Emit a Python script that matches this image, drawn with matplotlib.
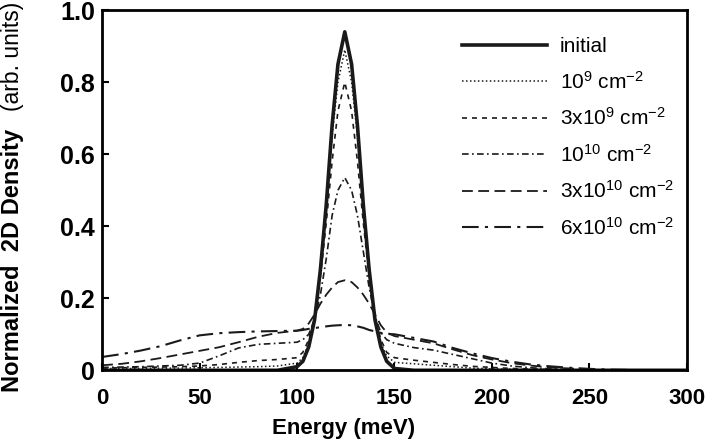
import matplotlib.pyplot as plt

plt.rcParams['font.family'] = ['Liberation Sans', 'DejaVu Sans']
plt.rcParams['mathtext.default'] = 'regular'

# energy grid (meV)
energy = [0, 10, 20, 30, 40, 50, 60, 70, 80, 90, 100,
          103, 106, 109, 112, 115, 118, 121, 124.5, 128, 131, 134, 137, 140, 143, 146,
          150, 160, 170, 180, 190, 200, 210, 220, 230, 240, 250, 260, 270, 280, 290, 300]

initial = [0, 0, 0, 0, 0, 0, 0, 0, 0, 0, 0.01,
           0.025, 0.065, 0.14, 0.28, 0.46, 0.68, 0.85, 0.94, 0.85, 0.68, 0.46, 0.28, 0.14, 0.065, 0.025,
           0.005, 0, 0, 0, 0, 0, 0, 0, 0, 0, 0, 0, 0, 0, 0, 0]

d_1e9 = [0.005, 0.005, 0.005, 0.006, 0.006, 0.007, 0.008, 0.009, 0.01, 0.012, 0.02,
         0.035, 0.075, 0.15, 0.28, 0.45, 0.65, 0.8, 0.89, 0.8, 0.65, 0.45, 0.28, 0.15, 0.075, 0.04,
         0.022, 0.018, 0.014, 0.01, 0.006, 0.004, 0.003, 0.002, 0.001, 0.001, 0, 0, 0, 0, 0, 0]

d_3e9 = [0.006, 0.007, 0.008, 0.009, 0.01, 0.012, 0.016, 0.022, 0.027, 0.03, 0.035,
         0.05, 0.085, 0.15, 0.26, 0.41, 0.58, 0.72, 0.8, 0.72, 0.58, 0.41, 0.26, 0.15, 0.085, 0.05,
         0.035, 0.028, 0.022, 0.016, 0.011, 0.008, 0.005, 0.004, 0.002, 0.001, 0, 0, 0, 0, 0, 0]

d_1e10 = [0.008, 0.009, 0.01, 0.012, 0.014, 0.02, 0.04, 0.062, 0.072, 0.075, 0.078,
          0.085, 0.1, 0.14, 0.21, 0.31, 0.43, 0.5, 0.535, 0.5, 0.43, 0.33, 0.23, 0.15, 0.105, 0.085,
          0.075, 0.063, 0.056, 0.044, 0.032, 0.02, 0.012, 0.007, 0.004, 0.002, 0, 0, 0, 0, 0, 0]

d_3e10 = [0.014, 0.018, 0.025, 0.034, 0.044, 0.054, 0.064, 0.078, 0.093, 0.104, 0.11,
          0.115, 0.13, 0.155, 0.185, 0.21, 0.23, 0.245, 0.25, 0.245, 0.23, 0.21, 0.185, 0.155, 0.125, 0.105,
          0.095, 0.085, 0.075, 0.058, 0.042, 0.03, 0.02, 0.013, 0.008, 0.005, 0.002, 0, 0, 0, 0, 0]

d_6e10 = [0.037, 0.045, 0.055, 0.067, 0.083, 0.097, 0.103, 0.106, 0.108, 0.109, 0.11,
          0.112, 0.115, 0.117, 0.12, 0.122, 0.124, 0.125, 0.126, 0.125, 0.122, 0.118, 0.112, 0.108, 0.104, 0.101,
          0.1, 0.09, 0.08, 0.062, 0.047, 0.034, 0.024, 0.016, 0.011, 0.007, 0.004, 0.002, 0.001, 0, 0, 0]

labels = ['initial', '$10^9$ cm$^{-2}$', '3x$10^9$ cm$^{-2}$', '$10^{10}$ cm$^{-2}$',
          '3x$10^{10}$ cm$^{-2}$', '6x$10^{10}$ cm$^{-2}$']

fig = plt.figure(figsize=(7.14, 4.44), dpi=100)
ax = fig.add_axes([0.143, 0.166, 0.819, 0.811])

c = '#1a1a1a'
ax.plot(energy, initial, color=c, lw=2.6, ls='-', label=labels[0])
ax.plot(energy, d_1e9, color=c, lw=1.1, ls=(0, (1, 1.6)), label=labels[1])
ax.plot(energy, d_3e9, color=c, lw=1.2, ls=(0, (3, 3)), label=labels[2])
ax.plot(energy, d_1e10, color=c, lw=1.2, ls=(0, (4, 2, 1, 2)), label=labels[3])
ax.plot(energy, d_3e10, color=c, lw=1.3, ls=(0, (6, 3)), label=labels[4])
ax.plot(energy, d_6e10, color=c, lw=1.5, ls=(0, (8, 3, 1.5, 3)), label=labels[5])

ax.set_xlim(0, 300)
ax.set_ylim(0, 1.0)
ax.set_xticks([0, 50, 100, 150, 200, 250, 300])
ax.set_yticks([0, 0.2, 0.4, 0.6, 0.8, 1.0])
ax.set_yticklabels(['0', '0.2', '0.4', '0.6', '0.8', '1.0'])

for spine in ax.spines.values():
    spine.set_linewidth(2.0)

ax.tick_params(direction='in', length=5, width=1.5)
ax.tick_params(axis='x', pad=13, labelsize=16)
ax.tick_params(axis='y', pad=5, labelsize=18)
for t in ax.get_xticklabels() + ax.get_yticklabels():
    t.set_fontweight('bold')

# x label sits left of the axes centre in the original
fig.text(344 / 714, 1 - 428 / 444, 'Energy (meV)', ha='center', va='center',
         fontsize=16, fontweight='bold')

# y label: bold part + normal part
fig.text(0.018, 1 - 392 / 444, 'Normalized  2D Density', rotation=90, ha='center', va='bottom',
         fontsize=17, fontweight='bold')
fig.text(0.018, 1 - 2 / 444, '(arb. units)', rotation=90, ha='center', va='top',
         fontsize=16.5)

ax.legend(loc='upper left', bbox_to_anchor=(0.615, 0.925), frameon=False, fontsize=15,
          handlelength=4.1, handletextpad=0.6, labelspacing=0.7, borderaxespad=0,
          borderpad=0)

fig.savefig('out.png', dpi=100)
